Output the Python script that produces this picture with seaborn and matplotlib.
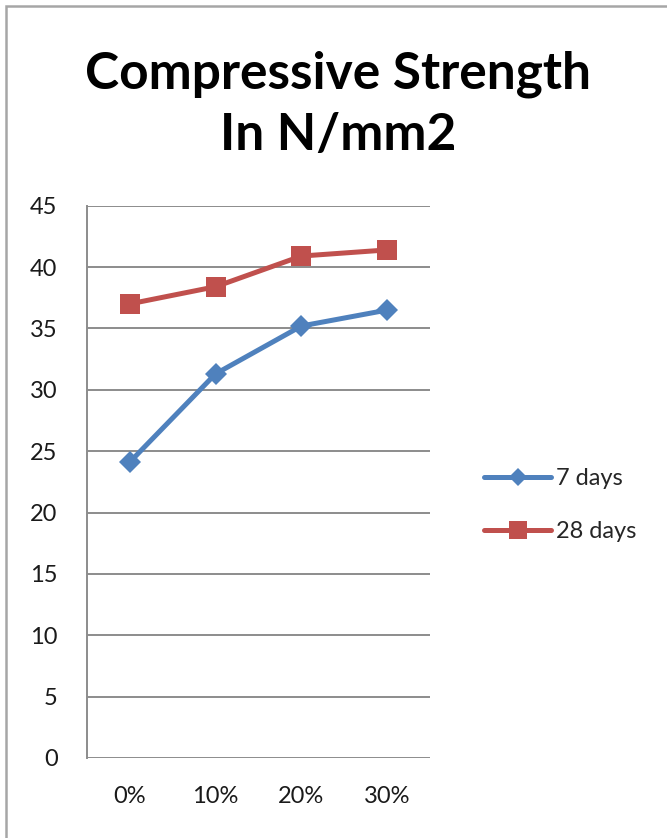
import matplotlib
matplotlib.use("Agg")
import matplotlib.pyplot as plt
from matplotlib.lines import Line2D
from matplotlib.patches import Rectangle
import pandas as pd
import seaborn as sns

# Replacement levels and compressive strength (N/mm2) at each curing age
levels = ["0%", "10%", "20%", "30%"]
strength_7_days = [24.1, 31.3, 35.2, 36.5]
strength_28_days = [37.0, 38.4, 40.9, 41.4]
series_names = ["7 days", "28 days"]
y_ticks = [0, 5, 10, 15, 20, 25, 30, 35, 40, 45]
title_lines = ["Compressive Strength", "In N/mm2"]

df = pd.DataFrame({
    "level": levels * 2,
    "strength": strength_7_days + strength_28_days,
    "age": [series_names[0]] * len(levels) + [series_names[1]] * len(levels),
})

sns.set_theme(style="white")
plt.rcParams["font.family"] = ["Lato", "DejaVu Sans"]

colors = {"7 days": "#4F81BD", "28 days": "#C0504D"}
markers = {"7 days": "D", "28 days": "s"}
sizes = {"7 days": 11, "28 days": 15}
label_size = 17

fig = plt.figure(figsize=(6.67, 8.38), dpi=100)
ax = fig.add_axes([0.130, 0.0955, 0.515, 0.659])

for name in series_names:
    sub = df[df["age"] == name]
    sns.lineplot(data=sub, x="level", y="strength", ax=ax, color=colors[name],
                 marker=markers[name], markersize=sizes[name], linewidth=3.6,
                 markeredgewidth=0, sort=False, label=name, legend=False)

ax.set_xlim(-0.5, len(levels) - 0.5)
ax.set_ylim(0, 45)
ax.set_yticks(y_ticks)
ax.set_yticklabels([str(t) for t in y_ticks])
ax.set_xticks(range(len(levels)))
ax.set_xticklabels(levels)
ax.set_xlabel("")
ax.set_ylabel("")

grid_color = "#8C8C8C"
ax.yaxis.grid(True, color=grid_color, linewidth=1.4)
ax.xaxis.grid(False)
ax.set_axisbelow(True)
for side in ["top", "right", "bottom"]:
    ax.spines[side].set_visible(False)
ax.spines["left"].set_color(grid_color)
ax.spines["left"].set_linewidth(1.4)
ax.tick_params(axis="both", length=0, labelsize=label_size, colors="#1a1a1a")
ax.tick_params(axis="y", pad=21)
ax.tick_params(axis="x", pad=20)

handles = [
    Line2D([], [], color=colors["7 days"], marker="D", markersize=9,
           linewidth=3.6, markeredgewidth=0),
    Line2D([], [], color=colors["28 days"], marker="s", markersize=13,
           linewidth=3.6, markeredgewidth=0),
]
fig.legend(handles, series_names, loc="center left",
           bbox_to_anchor=(0.694, 0.397), frameon=False, fontsize=label_size,
           handlelength=2.84, handletextpad=0.2, labelspacing=1.36)

# Two-line bold chart title
fig.text(0.507, 1 - 88 / 838, title_lines[0], ha="center", va="baseline",
         fontsize=37, fontweight="bold", color="#000000")
fig.text(0.507, 1 - 150 / 838, title_lines[1], ha="center", va="baseline",
         fontsize=37, fontweight="bold", color="#000000")

fig.patches.append(Rectangle((0.009, -0.01), 1.05, 1.003, transform=fig.transFigure,
                             fill=False, edgecolor="#A6A6A6", linewidth=1.8))

fig.savefig("out.png", dpi=100, facecolor="white")
